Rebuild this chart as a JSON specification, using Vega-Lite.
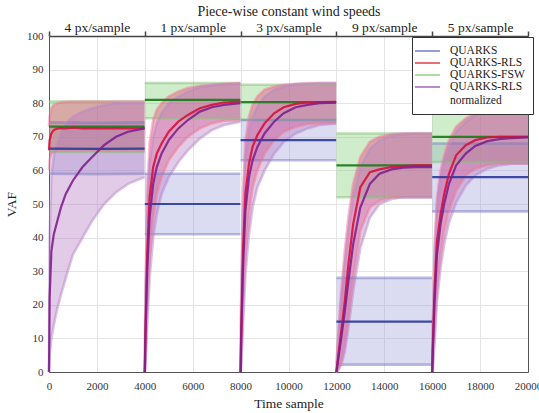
{
"$schema": "https://vega.github.io/schema/vega-lite/v6.json",
"width": 479, "height": 336,
"autosize": {"type": "none"},
"padding": {"left": 49, "top": 36, "right": 11, "bottom": 41},
"background": "white",
"config": {"font": "Liberation Serif", "view": {"stroke": null},
  "axis": {"labelFont": "Liberation Serif", "titleFont": "Liberation Serif"},
  "legend": {"labelFont": "Liberation Serif", "titleFont": "Liberation Serif"},
  "text": {"font": "Liberation Serif"}},
"datasets": {"d": [
{"t":0,"s":"QUARKS","m":66.5,"lo":59,"hi":74.3},{"t":2000,"s":"QUARKS","m":66.4,"lo":58.9,"hi":74.2},{"t":3990,"s":"QUARKS","m":66.5,"lo":59,"hi":74.3},
{"t":4000,"s":"QUARKS","m":50,"lo":41,"hi":59},{"t":6000,"s":"QUARKS","m":50,"lo":41,"hi":59},{"t":7990,"s":"QUARKS","m":50,"lo":41,"hi":59},
{"t":8000,"s":"QUARKS","m":69,"lo":63,"hi":75},{"t":10000,"s":"QUARKS","m":69,"lo":63,"hi":75},{"t":11990,"s":"QUARKS","m":69,"lo":63,"hi":75},
{"t":12000,"s":"QUARKS","m":15,"lo":2.2,"hi":28},{"t":14000,"s":"QUARKS","m":15,"lo":2.2,"hi":28},{"t":15990,"s":"QUARKS","m":15,"lo":2.2,"hi":28},
{"t":16000,"s":"QUARKS","m":58,"lo":47.8,"hi":68},{"t":18000,"s":"QUARKS","m":58,"lo":47.8,"hi":68},{"t":20000,"s":"QUARKS","m":58,"lo":47.8,"hi":68},
{"t":0,"s":"QUARKS-FSW","m":73,"lo":65.5,"hi":80.5},{"t":2000,"s":"QUARKS-FSW","m":73,"lo":65.5,"hi":80.5},{"t":3990,"s":"QUARKS-FSW","m":73,"lo":65.5,"hi":80.5},
{"t":4000,"s":"QUARKS-FSW","m":81,"lo":75.5,"hi":86},{"t":6000,"s":"QUARKS-FSW","m":81,"lo":75.5,"hi":86},{"t":7990,"s":"QUARKS-FSW","m":81,"lo":75.5,"hi":86},
{"t":8000,"s":"QUARKS-FSW","m":80.3,"lo":75,"hi":85.5},{"t":10000,"s":"QUARKS-FSW","m":80.3,"lo":75,"hi":85.5},{"t":11990,"s":"QUARKS-FSW","m":80.3,"lo":75,"hi":85.5},
{"t":12000,"s":"QUARKS-FSW","m":61.5,"lo":52,"hi":71},{"t":14000,"s":"QUARKS-FSW","m":61.5,"lo":52,"hi":71},{"t":15990,"s":"QUARKS-FSW","m":61.5,"lo":52,"hi":71},
{"t":16000,"s":"QUARKS-FSW","m":70,"lo":62.5,"hi":77.8},{"t":18000,"s":"QUARKS-FSW","m":70,"lo":62.5,"hi":77.8},{"t":20000,"s":"QUARKS-FSW","m":70,"lo":62.5,"hi":77.8},
{"t":0,"s":"QUARKS-RLS","m":66,"lo":60,"hi":73},{"t":25,"s":"QUARKS-RLS","m":69,"lo":63,"hi":76},{"t":100,"s":"QUARKS-RLS","m":71,"lo":65,"hi":78.5},{"t":200,"s":"QUARKS-RLS","m":72,"lo":65.5,"hi":79.5},{"t":350,"s":"QUARKS-RLS","m":72.5,"lo":66,"hi":80},{"t":500,"s":"QUARKS-RLS","m":72.6,"lo":66,"hi":80.3},{"t":700,"s":"QUARKS-RLS","m":72.5,"lo":66,"hi":80.4},{"t":1000,"s":"QUARKS-RLS","m":72.7,"lo":66,"hi":80.5},{"t":1400,"s":"QUARKS-RLS","m":72.5,"lo":66,"hi":80.5},{"t":1800,"s":"QUARKS-RLS","m":72.6,"lo":66,"hi":80.5},{"t":2300,"s":"QUARKS-RLS","m":72.5,"lo":66,"hi":80.5},{"t":2800,"s":"QUARKS-RLS","m":72.6,"lo":66,"hi":80.5},{"t":3300,"s":"QUARKS-RLS","m":72.5,"lo":66,"hi":80.5},{"t":3990,"s":"QUARKS-RLS","m":72.5,"lo":66,"hi":80.5},
{"t":4000,"s":"QUARKS-RLS","m":0,"lo":0,"hi":0},{"t":4025,"s":"QUARKS-RLS","m":12,"lo":3,"hi":22},{"t":4100,"s":"QUARKS-RLS","m":35,"lo":18,"hi":52},{"t":4200,"s":"QUARKS-RLS","m":52,"lo":34,"hi":68},{"t":4350,"s":"QUARKS-RLS","m":61,"lo":46,"hi":75},{"t":4500,"s":"QUARKS-RLS","m":65,"lo":53,"hi":78},{"t":4700,"s":"QUARKS-RLS","m":68,"lo":58,"hi":80},{"t":5000,"s":"QUARKS-RLS","m":71.5,"lo":63,"hi":82},{"t":5400,"s":"QUARKS-RLS","m":74.5,"lo":67,"hi":83.5},{"t":5800,"s":"QUARKS-RLS","m":76.5,"lo":70,"hi":84.5},{"t":6300,"s":"QUARKS-RLS","m":78.5,"lo":72.5,"hi":85.2},{"t":6800,"s":"QUARKS-RLS","m":79.5,"lo":74,"hi":85.5},{"t":7300,"s":"QUARKS-RLS","m":80.2,"lo":74.8,"hi":85.8},{"t":7990,"s":"QUARKS-RLS","m":80.5,"lo":75,"hi":86},
{"t":8000,"s":"QUARKS-RLS","m":0,"lo":0,"hi":0},{"t":8025,"s":"QUARKS-RLS","m":12,"lo":3,"hi":22},{"t":8100,"s":"QUARKS-RLS","m":36,"lo":18,"hi":53},{"t":8200,"s":"QUARKS-RLS","m":53,"lo":35,"hi":69},{"t":8350,"s":"QUARKS-RLS","m":62,"lo":47,"hi":76},{"t":8500,"s":"QUARKS-RLS","m":67,"lo":55,"hi":79.5},{"t":8700,"s":"QUARKS-RLS","m":70.5,"lo":60,"hi":82},{"t":9000,"s":"QUARKS-RLS","m":74,"lo":65,"hi":84},{"t":9400,"s":"QUARKS-RLS","m":77,"lo":69,"hi":85},{"t":9800,"s":"QUARKS-RLS","m":78.8,"lo":71.5,"hi":85.5},{"t":10300,"s":"QUARKS-RLS","m":79.8,"lo":73,"hi":85.8},{"t":10800,"s":"QUARKS-RLS","m":80.2,"lo":73.8,"hi":86},{"t":11300,"s":"QUARKS-RLS","m":80.3,"lo":74,"hi":86},{"t":11990,"s":"QUARKS-RLS","m":80.4,"lo":74,"hi":86},
{"t":12000,"s":"QUARKS-RLS","m":0,"lo":0,"hi":0},{"t":12025,"s":"QUARKS-RLS","m":1.5,"lo":0,"hi":5},{"t":12100,"s":"QUARKS-RLS","m":6,"lo":1,"hi":14},{"t":12200,"s":"QUARKS-RLS","m":12,"lo":3,"hi":24},{"t":12350,"s":"QUARKS-RLS","m":21,"lo":8,"hi":36},{"t":12500,"s":"QUARKS-RLS","m":32,"lo":16,"hi":46},{"t":12700,"s":"QUARKS-RLS","m":44,"lo":28,"hi":56},{"t":13000,"s":"QUARKS-RLS","m":55,"lo":42,"hi":64},{"t":13400,"s":"QUARKS-RLS","m":59.5,"lo":49,"hi":68.5},{"t":13800,"s":"QUARKS-RLS","m":60.3,"lo":51,"hi":70},{"t":14300,"s":"QUARKS-RLS","m":61,"lo":52,"hi":70.8},{"t":14800,"s":"QUARKS-RLS","m":61.3,"lo":52,"hi":71},{"t":15300,"s":"QUARKS-RLS","m":61.5,"lo":52,"hi":71},{"t":15990,"s":"QUARKS-RLS","m":61.5,"lo":52,"hi":71},
{"t":16000,"s":"QUARKS-RLS","m":0,"lo":0,"hi":0},{"t":16025,"s":"QUARKS-RLS","m":8,"lo":2,"hi":14},{"t":16100,"s":"QUARKS-RLS","m":25,"lo":12,"hi":38},{"t":16200,"s":"QUARKS-RLS","m":39,"lo":25,"hi":52},{"t":16350,"s":"QUARKS-RLS","m":47,"lo":35,"hi":60},{"t":16500,"s":"QUARKS-RLS","m":53,"lo":42,"hi":64.5},{"t":16700,"s":"QUARKS-RLS","m":59,"lo":48,"hi":69},{"t":17000,"s":"QUARKS-RLS","m":64.5,"lo":54,"hi":73},{"t":17400,"s":"QUARKS-RLS","m":67.5,"lo":58.5,"hi":75.5},{"t":17800,"s":"QUARKS-RLS","m":69,"lo":60.5,"hi":77},{"t":18300,"s":"QUARKS-RLS","m":69.8,"lo":61.5,"hi":77.6},{"t":18800,"s":"QUARKS-RLS","m":70,"lo":62,"hi":78},{"t":19300,"s":"QUARKS-RLS","m":70,"lo":62,"hi":78},{"t":20000,"s":"QUARKS-RLS","m":70,"lo":62,"hi":78},
{"t":0,"s":"QUARKS-RLS normalized","m":0,"lo":0,"hi":0},{"t":25,"s":"QUARKS-RLS normalized","m":22,"lo":5,"hi":40},{"t":100,"s":"QUARKS-RLS normalized","m":36,"lo":10,"hi":58},{"t":200,"s":"QUARKS-RLS normalized","m":41,"lo":14,"hi":64},{"t":350,"s":"QUARKS-RLS normalized","m":45,"lo":19,"hi":68},{"t":500,"s":"QUARKS-RLS normalized","m":49,"lo":23,"hi":71},{"t":700,"s":"QUARKS-RLS normalized","m":53,"lo":28,"hi":74},{"t":1000,"s":"QUARKS-RLS normalized","m":57,"lo":35,"hi":76},{"t":1400,"s":"QUARKS-RLS normalized","m":61,"lo":40,"hi":77.5},{"t":1800,"s":"QUARKS-RLS normalized","m":64,"lo":45,"hi":78.5},{"t":2300,"s":"QUARKS-RLS normalized","m":67.5,"lo":50,"hi":79.5},{"t":2800,"s":"QUARKS-RLS normalized","m":70,"lo":53.5,"hi":80},{"t":3300,"s":"QUARKS-RLS normalized","m":71.5,"lo":56,"hi":80},{"t":3990,"s":"QUARKS-RLS normalized","m":72.5,"lo":58,"hi":80},
{"t":4000,"s":"QUARKS-RLS normalized","m":0,"lo":0,"hi":0},{"t":4025,"s":"QUARKS-RLS normalized","m":10,"lo":2,"hi":20},{"t":4100,"s":"QUARKS-RLS normalized","m":30,"lo":14,"hi":46},{"t":4200,"s":"QUARKS-RLS normalized","m":46,"lo":28,"hi":62},{"t":4350,"s":"QUARKS-RLS normalized","m":56,"lo":40,"hi":70},{"t":4500,"s":"QUARKS-RLS normalized","m":61,"lo":47,"hi":74},{"t":4700,"s":"QUARKS-RLS normalized","m":65,"lo":53,"hi":77},{"t":5000,"s":"QUARKS-RLS normalized","m":69,"lo":58,"hi":80},{"t":5400,"s":"QUARKS-RLS normalized","m":72.5,"lo":62.5,"hi":82},{"t":5800,"s":"QUARKS-RLS normalized","m":75,"lo":66,"hi":83.5},{"t":6300,"s":"QUARKS-RLS normalized","m":77.5,"lo":69.5,"hi":84.8},{"t":6800,"s":"QUARKS-RLS normalized","m":78.8,"lo":72,"hi":85.3},{"t":7300,"s":"QUARKS-RLS normalized","m":79.5,"lo":73.5,"hi":85.6},{"t":7990,"s":"QUARKS-RLS normalized","m":80,"lo":74.5,"hi":85.8},
{"t":8000,"s":"QUARKS-RLS normalized","m":0,"lo":0,"hi":0},{"t":8025,"s":"QUARKS-RLS normalized","m":10,"lo":2,"hi":20},{"t":8100,"s":"QUARKS-RLS normalized","m":31,"lo":14,"hi":47},{"t":8200,"s":"QUARKS-RLS normalized","m":48,"lo":29,"hi":64},{"t":8350,"s":"QUARKS-RLS normalized","m":58,"lo":41,"hi":72},{"t":8500,"s":"QUARKS-RLS normalized","m":63,"lo":49,"hi":76},{"t":8700,"s":"QUARKS-RLS normalized","m":67,"lo":55,"hi":79},{"t":9000,"s":"QUARKS-RLS normalized","m":71,"lo":60,"hi":82},{"t":9400,"s":"QUARKS-RLS normalized","m":74.5,"lo":65,"hi":84},{"t":9800,"s":"QUARKS-RLS normalized","m":77,"lo":68.5,"hi":85},{"t":10300,"s":"QUARKS-RLS normalized","m":78.8,"lo":71,"hi":85.6},{"t":10800,"s":"QUARKS-RLS normalized","m":79.5,"lo":72.5,"hi":85.8},{"t":11300,"s":"QUARKS-RLS normalized","m":80,"lo":73.5,"hi":86},{"t":11990,"s":"QUARKS-RLS normalized","m":80.2,"lo":74,"hi":86},
{"t":12000,"s":"QUARKS-RLS normalized","m":0,"lo":0,"hi":0},{"t":12025,"s":"QUARKS-RLS normalized","m":1.2,"lo":0,"hi":4},{"t":12100,"s":"QUARKS-RLS normalized","m":5,"lo":1,"hi":12},{"t":12200,"s":"QUARKS-RLS normalized","m":10,"lo":2,"hi":21},{"t":12350,"s":"QUARKS-RLS normalized","m":18,"lo":6,"hi":32},{"t":12500,"s":"QUARKS-RLS normalized","m":27,"lo":13,"hi":42},{"t":12700,"s":"QUARKS-RLS normalized","m":38,"lo":24,"hi":52},{"t":13000,"s":"QUARKS-RLS normalized","m":49,"lo":37,"hi":61},{"t":13400,"s":"QUARKS-RLS normalized","m":56,"lo":46,"hi":66.5},{"t":13800,"s":"QUARKS-RLS normalized","m":59,"lo":50,"hi":69},{"t":14300,"s":"QUARKS-RLS normalized","m":60.3,"lo":51.5,"hi":70.3},{"t":14800,"s":"QUARKS-RLS normalized","m":60.8,"lo":52,"hi":70.8},{"t":15300,"s":"QUARKS-RLS normalized","m":61,"lo":52,"hi":71},{"t":15990,"s":"QUARKS-RLS normalized","m":61,"lo":52,"hi":71},
{"t":16000,"s":"QUARKS-RLS normalized","m":0,"lo":0,"hi":0},{"t":16025,"s":"QUARKS-RLS normalized","m":6,"lo":1,"hi":12},{"t":16100,"s":"QUARKS-RLS normalized","m":21,"lo":9,"hi":34},{"t":16200,"s":"QUARKS-RLS normalized","m":35,"lo":21,"hi":49},{"t":16350,"s":"QUARKS-RLS normalized","m":44,"lo":31,"hi":57.5},{"t":16500,"s":"QUARKS-RLS normalized","m":50,"lo":38,"hi":62.5},{"t":16700,"s":"QUARKS-RLS normalized","m":56,"lo":44.5,"hi":67},{"t":17000,"s":"QUARKS-RLS normalized","m":61.5,"lo":50.5,"hi":71.5},{"t":17400,"s":"QUARKS-RLS normalized","m":65,"lo":55.5,"hi":74.5},{"t":17800,"s":"QUARKS-RLS normalized","m":67.3,"lo":58.5,"hi":76.5},{"t":18300,"s":"QUARKS-RLS normalized","m":68.7,"lo":60.5,"hi":77.5},{"t":18800,"s":"QUARKS-RLS normalized","m":69.3,"lo":61.5,"hi":78},{"t":19300,"s":"QUARKS-RLS normalized","m":69.6,"lo":62,"hi":78},{"t":20000,"s":"QUARKS-RLS normalized","m":69.8,"lo":62,"hi":78}
]},
"data": {"name": "d"},
"transform": [{"calculate": "floor(min(datum.t, 19999) / 4000)", "as": "seg"}],
"layer": [
{"mark": {"type": "area", "fillOpacity": 0.38},
 "encoding": {
  "x": {"field": "t", "type": "quantitative", "scale": {"domain": [0, 20000], "nice": false},
    "axis": {"orient": "bottom", "values": [0,2000,4000,6000,8000,10000,12000,14000,16000,18000,20000], "format": "d", "title": "Time sample", "grid": true, "gridColor": "#e4e4e4", "domainColor": "#555", "tickColor": "#555", "tickSize": 0, "labelFont": "Liberation Serif", "titleFont": "Liberation Serif", "labelFontSize": 11, "labelColor": "#333", "labelPadding": 8, "titleFontSize": 13.5, "titleFontWeight": "normal", "titleColor": "#222", "titlePadding": 5, "labelFlush": false, "labelOverlap": false}},
  "y": {"field": "lo", "type": "quantitative", "scale": {"domain": [0, 100], "nice": false},
    "axis": {"orient": "left", "values": [0,10,20,30,40,50,60,70,80,90,100], "title": "VAF", "grid": true, "gridColor": "#e4e4e4", "domainColor": "#555", "tickColor": "#555", "tickSize": 0, "labelFont": "Liberation Serif", "titleFont": "Liberation Serif", "labelFontSize": 11, "labelColor": "#333", "labelPadding": 6, "titleFontSize": 13.5, "titleFontWeight": "normal", "titleColor": "#222", "titlePadding": 8, "labelFlush": false}},
  "y2": {"field": "hi"},
  "detail": {"field": "seg", "type": "nominal"},
  "fill": {"field": "s", "type": "nominal", "scale": {"domain": ["QUARKS", "QUARKS-RLS", "QUARKS-FSW", "QUARKS-RLS normalized"], "range": ["#a0a0dc", "#e8406a", "#82cd75", "#b476c1"]}, "legend": null}
 }},
{"mark": {"type": "line", "strokeWidth": 2.6, "opacity": 0.5},
 "encoding": {
  "x": {"field": "t", "type": "quantitative", "axis": null},
  "y": {"field": "lo", "type": "quantitative", "axis": null},
  "detail": {"field": "seg", "type": "nominal"},
  "stroke": {"field": "s", "type": "nominal", "scale": {"domain": ["QUARKS", "QUARKS-RLS", "QUARKS-FSW", "QUARKS-RLS normalized"], "range": ["#7a7ac4", "#f07898", "#80c474", "#b888cc"]}, "legend": null}
 }},
{"mark": {"type": "line", "strokeWidth": 2.6, "opacity": 0.5},
 "encoding": {
  "x": {"field": "t", "type": "quantitative", "axis": null},
  "y": {"field": "hi", "type": "quantitative", "axis": null},
  "detail": {"field": "seg", "type": "nominal"},
  "stroke": {"field": "s", "type": "nominal", "scale": {"domain": ["QUARKS", "QUARKS-RLS", "QUARKS-FSW", "QUARKS-RLS normalized"], "range": ["#7a7ac4", "#f07898", "#80c474", "#b888cc"]}, "legend": null}
 }},
{"mark": {"type": "line", "strokeWidth": 2.2, "opacity": 0.9},
 "encoding": {
  "x": {"field": "t", "type": "quantitative",
    "axis": {"orient": "top", "values": [0,2000,4000,6000,8000,10000,12000,14000,16000,18000,20000], "labelExpr": "datum.value == 2000 ? '4 px/sample' : datum.value == 6000 ? '1 px/sample' : datum.value == 10000 ? '3 px/sample' : datum.value == 14000 ? '9 px/sample' : datum.value == 18000 ? '5 px/sample' : ''", "tickOpacity": {"condition": {"test": "datum.value % 4000 === 0", "value": 1}, "value": 0}, "tickSize": 5, "tickWidth": 1.5, "tickColor": "#444", "domainColor": "#444", "domainWidth": 1.5, "grid": false, "labelFont": "Liberation Serif", "titleFont": "Liberation Serif", "labelFontSize": 13.5, "labelColor": "#222", "labelPadding": -3, "labelFlush": false, "labelOverlap": false, "title": "Piece-wise constant wind speeds", "titleFontSize": 14, "titleFontWeight": "normal", "titleColor": "#222", "titlePadding": 2}},
  "y": {"field": "m", "type": "quantitative",
    "axis": {"orient": "right", "labels": false, "values": [0,10,20,30,40,50,60,70,80,90,100], "tickSize": 0, "grid": false, "domainColor": "#555", "title": null}},
  "detail": {"field": "seg", "type": "nominal"},
  "stroke": {"field": "s", "type": "nominal", "scale": {"domain": ["QUARKS", "QUARKS-RLS", "QUARKS-FSW", "QUARKS-RLS normalized"], "range": ["#2b3a9a", "#d8103c", "#1a7a1a", "#80208e"]}, "legend": null}
 }},
{"transform": [{"filter": "datum.t < 0"}],
 "mark": {"type": "line", "strokeWidth": 1.5},
 "encoding": {
  "x": {"field": "t", "type": "quantitative", "axis": null},
  "y": {"field": "m", "type": "quantitative", "axis": null},
  "stroke": {"field": "s", "type": "nominal", "scale": {"domain": ["QUARKS", "QUARKS-RLS", "QUARKS-FSW", "QUARKS-RLS normalized"], "range": ["#7878c8", "#e03c46", "#96d080", "#a860c0"]},
    "legend": {"orient": "none", "legendX": 363, "legendY": 1, "title": null, "fillColor": "white", "strokeColor": "#333", "padding": 8, "symbolType": "M-2.2,0H2.8", "symbolSize": 100, "symbolStrokeWidth": 1.5, "labelFont": "Liberation Serif", "labelFontSize": 11.5, "labelColor": "#222", "labelOffset": 18, "rowPadding": 0, "labelExpr": "datum.label == 'QUARKS-RLS normalized' ? ['QUARKS-RLS', 'normalized'] : datum.label"}}
 }}
],
"resolve": {"scale": {"stroke": "independent"}, "axis": {"x": "independent", "y": "independent"}}
}
